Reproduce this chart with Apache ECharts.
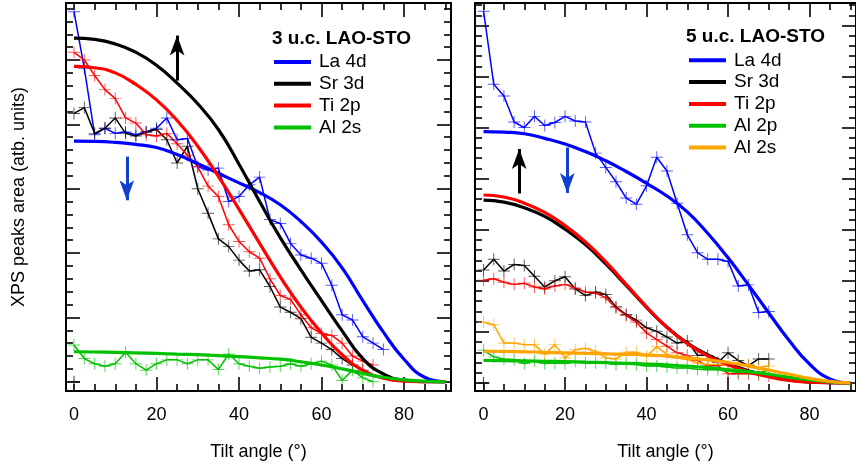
<!DOCTYPE html>
<html>
<head>
<meta charset="utf-8">
<script src="https://cdn.jsdelivr.net/npm/echarts@6/dist/echarts.min.js"></script>
<style>html,body{margin:0;padding:0;background:#fff}#c{width:856px;height:471px}</style>
</head>
<body>
<div id="c"></div>
<script>
// ---------- DATA ----------
const xTickLabels = [0, 20, 40, 60, 80];
const xMajorTicks = [20, 40, 60, 80];
const xMinorTicks = [0, 5, 10, 15, 25, 30, 35, 45, 50, 55, 65, 70, 75, 85, 90];
const yMajorTicksL = [0, 5, 10, 15, 20, 25];
const yMajorTicksR = [0, 5, 10, 15, 20, 25, 30, 35];

// 3 u.c. panel: measured data
const ang3 = [0,2.5,5,7.5,10,12.5,15,17.5,20,22.5,25,27.5,30,32.5,35,37.5,40,42.5,45,47.5,50,52.5,55,57.5,60,62.5,65,67.5,70,72.5,75];
const la4d_3 = [28.75,24.35,19.2,19.7,19.3,19.4,19.2,19.4,19.7,20.5,18.8,18.9,16.7,16.45,16.6,14.0,14.4,15.3,15.9,12.6,12.3,10.75,9.85,9.6,9.2,7.5,5.2,4.8,3.5,3.0,2.5];
const sr3d_3 = [20.85,21.3,19.3,19.7,20.5,19.3,19.1,19.4,19.6,18.8,17.0,18.3,15.0,13.1,11.1,10.5,9.45,8.6,8.7,7.4,5.8,5.4,4.9,3.45,3.0,2.5,1.8,1.3,0.9];
const ti2p_3 = [25.6,25.0,23.8,22.7,22.0,20.5,20.1,19.2,19.1,19.3,18.5,17.6,16.7,15.2,14.4,12.2,10.9,10.1,9.6,8.0,6.7,6.4,5.2,4.2,3.75,3.6,3.0,2.0,1.6,1.3];
const al2s_3 = [2.85,1.8,1.4,1.2,1.4,2.3,1.4,0.9,1.4,1.7,1.7,1.4,1.7,1.7,0.95,2.15,1.4,1.2,1.05,1.15,1.2,1.4,1.2,1.4,1.6,1.3,0.1,0.9,0.3,0.0];

// 3 u.c. panel: model curves
const angFit = [0,5,10,15,20,25,30,35,40,45,50,55,60,65,70,75,80,85,90];
const la4dFit_3 = [18.7,18.68,18.6,18.45,18.2,17.65,16.95,16.2,15.45,14.7,13.75,12.45,10.85,8.85,6.3,3.85,1.75,0.35,0];
const sr3dFit_3 = [26.7,26.6,26.25,25.6,24.6,23.2,21.6,19.6,16.9,14.0,11.2,8.7,6.3,3.95,1.8,0.6,0.12,0.01,0];
const ti2pFit_3 = [24.5,24.4,24.0,23.1,21.9,20.3,18.3,15.95,13.4,10.75,8.15,5.8,3.8,2.1,0.9,0.28,0.05,0.01,0];
const al2sFit_3 = [2.33,2.31,2.28,2.24,2.2,2.15,2.1,2.03,1.95,1.86,1.75,1.55,1.3,1.0,0.65,0.35,0.15,0.05,0];

// 5 u.c. panel: measured data
const ang5 = [0,2.5,5,7.5,10,12.5,15,17.5,20,22.5,25,27.5,30,32.5,35,37.5,40,42.5,45,47.5,50,52.5,55,57.5,60,62.5,65,67.5,70];
const la4d_5 = [36.4,29.25,28.1,25.55,25.0,26.1,25.2,25.5,26.1,25.65,25.55,22.5,21.1,19.7,18.1,17.5,19.3,22.1,20.75,17.6,14.5,12.75,12.1,12.1,11.9,9.5,9.6,6.9,7.0];
const sr3d_5 = [11.05,12.1,10.95,11.6,11.5,10.45,9.4,10.0,10.4,9.2,8.55,8.9,8.65,7.45,6.7,6.15,5.4,5.05,4.5,3.9,4.1,2.7,2.7,2.0,2.95,2.2,1.7,2.35,2.35];
const ti2p_5 = [10.05,10.2,9.85,9.65,9.75,9.4,9.2,9.5,9.65,9.3,8.9,8.8,8.35,7.35,6.6,5.95,4.9,4.25,3.6,2.95,2.7,2.2,1.65,1.7,0.9,0.9,0.9,0.8,0.65];
const al2p_5 = [3.2,2.55,2.35,2.3,1.9,2.2,1.9,1.95,1.9,2.1,1.95,1.95,1.95,1.8,1.9,1.8,1.65,1.65,1.55,1.45,1.45,1.35,1.3,1.3,1.15,1.05,1.15,1.0,1.25];
const al2s_5 = [5.95,5.7,3.9,3.9,3.75,3.75,2.8,3.75,2.45,3.25,3.4,3.1,2.45,2.35,3.0,3.0,2.6,3.55,2.8,2.45,2.3,1.95,1.8,1.8,1.7,1.8,1.8,1.5,1.65];

// 5 u.c. panel: model curves
const la4dFit_5 = [24.6,24.55,24.4,23.95,23.4,22.65,21.75,20.7,19.55,18.3,16.75,14.65,12.25,9.6,6.85,4.15,1.85,0.4,0];
const sr3dFit_5 = [17.9,17.7,17.15,16.3,15.05,13.55,11.65,9.55,7.4,5.45,3.9,2.75,1.9,1.2,0.65,0.3,0.1,0.03,0];
const ti2pFit_5 = [18.4,18.2,17.6,16.7,15.4,13.8,11.85,9.65,7.45,5.45,3.85,2.65,1.78,1.1,0.6,0.25,0.08,0.02,0];
const al2pFit_5 = [2.2,2.18,2.15,2.12,2.08,2.03,1.98,1.92,1.85,1.76,1.65,1.5,1.3,1.1,0.85,0.55,0.3,0.1,0];
const al2sFit_5 = [3.1,3.08,3.05,3.0,2.95,2.9,2.85,2.8,2.75,2.62,2.45,2.25,2.0,1.65,1.25,0.85,0.45,0.15,0];

const originMark = [[0, 0]];

// arrows (annotations): [x, yStart, yEnd]
const arrowUp3 = [25, 23.4, 26.9];
const arrowDown3 = [12.8, 17.5, 14.1];
const arrowUp5 = [8.75, 18.55, 22.9];
const arrowDown5 = [20.55, 23.05, 18.6];

// ---------- STYLE ----------
const C = {blue:'#0000ff', black:'#000000', red:'#ff0000', green:'#00c000', orange:'#ffa500', arrowBlue:'#1040cc'};
const FONT = 'Liberation Sans, Arial, sans-serif';
const PLUS = 'path://M-0.08,-1 L0.08,-1 L0.08,-0.08 L1,-0.08 L1,0.08 L0.08,0.08 L0.08,1 L-0.08,1 L-0.08,0.08 L-1,0.08 L-1,-0.08 L-0.08,-0.08 Z';

function zip(xs, ys){ return ys.map((v,i)=>[xs[i], v]); }
function range(a,b,skip){ const r=[]; for(let v=a; v<=b; v++){ if(v%skip!==0) r.push(v);} return r; }

const yMinorL = range(1, 29, 5);
const yMinorR = range(1, 37, 5);

const xRange = [{min:-1.94, max:91.39}, {min:-2.1, max:91.4}];
const yRange = [{min:-0.72, max:29.43}, {min:-0.79, max:37.2}];

const xAxis = [], yAxis = [];
for (let g = 0; g < 2; g++) {
  const base = {type:'value', gridIndex:g, min:xRange[g].min, max:xRange[g].max, splitLine:{show:false}};
  xAxis.push(Object.assign({}, base, {position:'bottom',
    axisLine:{show:true, onZero:false, lineStyle:{color:'#000', width:2}},
    axisTick:{show:true, inside:true, length:14, customValues:xMajorTicks, lineStyle:{color:'#000', width:1.6}},
    axisLabel:{show:true, customValues:xTickLabels, fontSize:18, margin:15, color:'#000', fontFamily:FONT},
    name:'Tilt angle (°)', nameLocation:'middle', nameGap:52, nameTextStyle:{fontSize:18, color:'#000', fontFamily:FONT}}));
  xAxis.push(Object.assign({}, base, {position:'bottom',
    axisLine:{show:false, onZero:false},
    axisTick:{show:true, inside:true, length:7, customValues:xMinorTicks, lineStyle:{color:'#000', width:1.6}},
    axisLabel:{show:false}}));
  xAxis.push(Object.assign({}, base, {position:'top',
    axisLine:{show:true, onZero:false, lineStyle:{color:'#000', width:2}},
    axisTick:{show:true, inside:true, length:14, customValues:xMajorTicks, lineStyle:{color:'#000', width:1.6}},
    axisLabel:{show:false}}));
  xAxis.push(Object.assign({}, base, {position:'top',
    axisLine:{show:false, onZero:false},
    axisTick:{show:true, inside:true, length:7, customValues:xMinorTicks, lineStyle:{color:'#000', width:1.6}},
    axisLabel:{show:false}}));

  const ybase = {type:'value', gridIndex:g, min:yRange[g].min, max:yRange[g].max, splitLine:{show:false}};
  const maj = g===0 ? yMajorTicksL : yMajorTicksR;
  const mnr = g===0 ? yMinorL : yMinorR;
  const leftMain = Object.assign({}, ybase, {position:'left',
    axisLine:{show:true, onZero:false, lineStyle:{color:'#000', width:2}},
    axisTick:{show:true, inside:true, length:14, customValues:maj, lineStyle:{color:'#000', width:1.6}},
    axisLabel:{show:false}});
  if (g===0) {
    leftMain.name = 'XPS peaks area (atb. units)';
    leftMain.nameLocation = 'middle';
    leftMain.nameGap = 38;
    leftMain.nameRotate = 90;
    leftMain.nameTextStyle = {fontSize:18, color:'#000', fontFamily:FONT};
  }
  yAxis.push(leftMain);
  yAxis.push(Object.assign({}, ybase, {position:'left',
    axisLine:{show:false, onZero:false},
    axisTick:{show:true, inside:true, length:7, customValues:mnr, lineStyle:{color:'#000', width:1.6}},
    axisLabel:{show:false}}));
  yAxis.push(Object.assign({}, ybase, {position:'right',
    axisLine:{show:true, onZero:false, lineStyle:{color:'#000', width:2}},
    axisTick:{show:true, inside:true, length:14, customValues:maj, lineStyle:{color:'#000', width:1.6}},
    axisLabel:{show:false}}));
  yAxis.push(Object.assign({}, ybase, {position:'right',
    axisLine:{show:false, onZero:false},
    axisTick:{show:true, inside:true, length:7, customValues:mnr, lineStyle:{color:'#000', width:1.6}},
    axisLabel:{show:false}}));
}

function dataSeries(name, g, xs, ys, color){
  return {name:name, type:'line', xAxisIndex:4*g, yAxisIndex:4*g, data:zip(xs, ys),
    symbol:PLUS, symbolSize:12, showSymbol:true, z:2,
    lineStyle:{color:color, width:1.5}, itemStyle:{color:color, opacity:0.65}};
}
function fitSeries(name, g, ys, color){
  return {name:name, type:'line', xAxisIndex:4*g, yAxisIndex:4*g, data:zip(angFit, ys),
    smooth:0.5, showSymbol:false, symbol:'none', z:3,
    lineStyle:{color:color, width:3.2}, itemStyle:{color:color}};
}
function arrow(a, color){
  return [{coord:[a[0], a[1]], lineStyle:{color:color}}, {coord:[a[0], a[2]]}];
}
function arrowML(list){
  return {silent:true, symbol:['none','arrow'], symbolSize:[11,20], label:{show:false},
    lineStyle:{width:3, type:'solid'}, emphasis:{disabled:true}, data:list};
}

const series = [
  dataSeries('d La 4d 3', 0, ang3, la4d_3, C.blue),
  dataSeries('d Sr 3d 3', 0, ang3, sr3d_3, C.black),
  dataSeries('d Ti 2p 3', 0, ang3, ti2p_3, C.red),
  dataSeries('d Al 2s 3', 0, ang3, al2s_3, C.green),
  fitSeries('La 4d', 0, la4dFit_3, C.blue),
  fitSeries('Sr 3d', 0, sr3dFit_3, C.black),
  fitSeries('Ti 2p', 0, ti2pFit_3, C.red),
  fitSeries('Al 2s', 0, al2sFit_3, C.green),
  dataSeries('d La 4d 5', 1, ang5, la4d_5, C.blue),
  dataSeries('d Sr 3d 5', 1, ang5, sr3d_5, C.black),
  dataSeries('d Ti 2p 5', 1, ang5, ti2p_5, C.red),
  dataSeries('d Al 2p 5', 1, ang5, al2p_5, C.green),
  dataSeries('d Al 2s 5', 1, ang5, al2s_5, C.orange),
  fitSeries('La 4d ', 1, la4dFit_5, C.blue),
  fitSeries('Sr 3d ', 1, sr3dFit_5, C.black),
  fitSeries('Ti 2p ', 1, ti2pFit_5, C.red),
  fitSeries('Al 2p ', 1, al2pFit_5, C.green),
  fitSeries('Al 2s ', 1, al2sFit_5, C.orange),
  {name:'o1', type:'scatter', xAxisIndex:0, yAxisIndex:0, data:originMark, symbol:PLUS, symbolSize:12, itemStyle:{color:'#000'}},
  {name:'o2', type:'scatter', xAxisIndex:4, yAxisIndex:4, data:originMark, symbol:PLUS, symbolSize:12, itemStyle:{color:'#000'}},
  {name:'a1', type:'line', xAxisIndex:0, yAxisIndex:0, data:[], markLine:arrowML([arrow(arrowUp3, C.black), arrow(arrowDown3, C.arrowBlue)])},
  {name:'a2', type:'line', xAxisIndex:4, yAxisIndex:4, data:[], markLine:arrowML([arrow(arrowUp5, C.black), arrow(arrowDown5, C.arrowBlue)])}
];

const legendCommon = {orient:'vertical', icon:'rect', itemWidth:37, itemHeight:4, itemGap:2.8,
  selectedMode:false, formatter:(n)=>n.trim(),
  textStyle:{fontSize:19, lineHeight:19, color:'#000', fontFamily:FONT, padding:[0,0,0,3]}};

const option = {
  animation:false,
  backgroundColor:'#fff',
  textStyle:{fontFamily:FONT},
  grid:[
    {left:66, top:3, width:385, height:388},
    {left:475, top:3, width:388, height:388}
  ],
  title:[
    {text:'3 u.c. LAO-STO', left:272, top:29, padding:0, textStyle:{fontSize:19, fontWeight:'bold', color:'#000', fontFamily:FONT}},
    {text:'5 u.c. LAO-STO', left:686, top:27, padding:0, textStyle:{fontSize:19, fontWeight:'bold', color:'#000', fontFamily:FONT}}
  ],
  legend:[
    Object.assign({}, legendCommon, {left:274, top:52.5, padding:0, data:['La 4d','Sr 3d','Ti 2p','Al 2s']}),
    Object.assign({}, legendCommon, {left:689, top:50.8, padding:0, data:['La 4d ','Sr 3d ','Ti 2p ','Al 2p ','Al 2s ']})
  ],
  xAxis:xAxis,
  yAxis:yAxis,
  series:series
};

const chart = echarts.init(document.getElementById('c'), null, {renderer:'canvas'});
chart.setOption(option);
</script>
</body>
</html>
